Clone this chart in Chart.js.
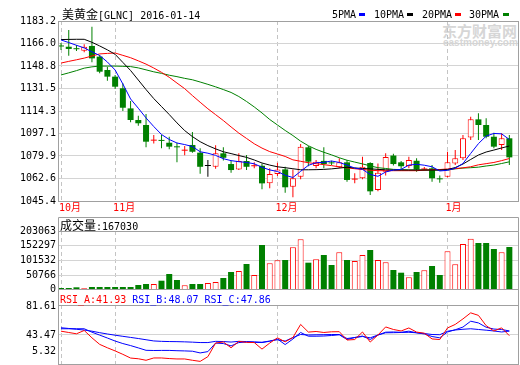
<!DOCTYPE html>
<html><head><meta charset="utf-8">
<script src="https://cdn.jsdelivr.net/npm/chart.js@4.4.1/dist/chart.umd.min.js"></script>
<style>
html,body{margin:0;padding:0;background:#fff;}
#wrap{position:relative;width:520px;height:365px;overflow:hidden;font-family:'DejaVu Sans Mono',monospace;font-size:10px;color:#000;}
canvas{position:absolute;left:0;top:0;}
.t{position:absolute;white-space:pre;line-height:12px;}
.cjk{font-family:'Noto Sans CJK SC';font-size:12px;}
.sq{position:absolute;width:6px;height:3px;top:13px;}
.wm1{position:absolute;left:442px;top:22px;font-family:'Noto Sans CJK SC';font-weight:bold;font-size:15px;line-height:17px;color:#d6d6d6;letter-spacing:0px;}
.wm2{position:absolute;left:443px;top:37px;font-family:'Liberation Sans';font-weight:bold;font-size:10px;line-height:11px;color:#d6d6d6;}
</style></head>
<body><div id="wrap">
<div class="wm1">东方财富网</div>
<div class="wm2">eastmoney.com</div>
<canvas id="cMain" width="520" height="365"></canvas>
<canvas id="cVol" width="520" height="365"></canvas>
<canvas id="cRsi" width="520" height="365"></canvas>
<div class="t" style="left:62px;top:8px"><span class="cjk">美黄金</span>[GLNC] 2016-01-14</div>
<div class="t" style="left:332px;top:9px">5PMA</div><div class="sq" style="left:359px;background:#0000ff"></div>
<div class="t" style="left:374px;top:9px">10PMA</div><div class="sq" style="left:407px;background:#000"></div>
<div class="t" style="left:422px;top:9px">20PMA</div><div class="sq" style="left:455px;background:#ff0000"></div>
<div class="t" style="left:469px;top:9px">30PMA</div><div class="sq" style="left:503px;background:#008000"></div>
<div class="t" style="left:60px;top:219px"><span class="cjk">成交量</span>:167030</div>
<div class="t" style="left:60px;top:294px"><span style="color:#ff0000">RSI_A:41.93</span> <span style="color:#0000ff">RSI_B:48.07</span> <span style="color:#0000ff">RSI_C:47.86</span></div>
</div>
<script>
const dates = ['2015-10-22','2015-10-23','2015-10-26','2015-10-27','2015-10-28','2015-10-29','2015-10-30',
'2015-11-02','2015-11-03','2015-11-04','2015-11-05','2015-11-06','2015-11-09','2015-11-10','2015-11-11','2015-11-12','2015-11-13',
'2015-11-16','2015-11-17','2015-11-18','2015-11-19','2015-11-20','2015-11-23','2015-11-24','2015-11-25','2015-11-26','2015-11-27','2015-11-30',
'2015-12-01','2015-12-02','2015-12-03','2015-12-04','2015-12-07','2015-12-08','2015-12-09','2015-12-10','2015-12-11',
'2015-12-14','2015-12-15','2015-12-16','2015-12-17','2015-12-18','2015-12-21','2015-12-22','2015-12-23','2015-12-24',
'2015-12-28','2015-12-29','2015-12-30','2015-12-31',
'2016-01-04','2016-01-05','2016-01-06','2016-01-07','2016-01-08','2016-01-11','2016-01-12','2016-01-13','2016-01-14'];
const monthLabels = ['10月','11月','12月','1月'];

const opens = [1164.1,1163.5,1162.0,1160.5,1164.1,1155.9,1145.7,1140.6,1131.7,1116.3,
1107.4,1103.6,1091.6,1091.9,1090.0,1087.0,1083.9,1088.3,1082.4,1072.2,
1071.6,1081.9,1073.7,1069.6,1076.0,1072.0,1072.4,1058.9,1066.0,1069.6,
1056.3,1064.0,1086.5,1072.2,1076.1,1074.8,1071.2,1075.0,1061.8,1062.8,
1074.5,1053.8,1067.8,1080.2,1075.0,1072.2,1076.2,1069.5,1070.4,1062.5,
1064.0,1074.2,1078.1,1094.1,1107.9,1103.6,1094.6,1088.3,1093.4];
const highs = [1166.3,1176.3,1164.8,1165.4,1178.8,1157.2,1148.2,1141.9,1135.5,1121.9,
1110.7,1112.0,1095.9,1095.9,1094.6,1090.0,1087.5,1098.2,1085.7,1076.8,
1088.0,1086.5,1076.5,1081.9,1080.6,1075.0,1074.2,1070.4,1074.7,1071.6,
1069.6,1089.0,1087.5,1076.8,1086.5,1076.2,1078.1,1076.8,1066.6,1079.3,
1075.0,1074.2,1082.0,1081.5,1076.0,1079.3,1078.1,1071.5,1072.9,1065.0,
1083.1,1084.4,1095.9,1109.9,1112.6,1108.7,1097.7,1097.2,1095.9];
const lows = [1161.0,1156.6,1160.2,1159.2,1151.6,1143.2,1137.5,1131.1,1114.3,1105.6,
1103.0,1086.5,1089.5,1085.7,1085.0,1075.0,1080.5,1082.4,1066.3,1064.0,
1070.0,1076.5,1067.0,1069.1,1069.1,1070.4,1054.3,1055.1,1064.5,1051.7,
1048.2,1062.0,1072.0,1070.4,1070.4,1072.9,1070.4,1060.2,1058.9,1062.0,
1049.9,1052.8,1065.0,1072.5,1069.0,1070.4,1067.8,1068.5,1060.2,1059.4,
1063.5,1072.9,1076.8,1092.1,1092.1,1093.4,1085.7,1084.4,1072.9];
const closes = [1163.7,1161.8,1161.6,1163.5,1154.6,1144.4,1140.6,1132.9,1116.8,1107.4,
1104.9,1090.8,1092.3,1091.4,1087.0,1086.5,1084.7,1083.1,1071.6,1072.2,
1081.9,1078.5,1069.1,1076.0,1071.6,1072.8,1058.9,1066.0,1069.6,1055.9,
1062.8,1087.0,1075.5,1075.5,1073.7,1074.2,1075.1,1061.5,1062.4,1071.6,
1052.8,1067.1,1079.1,1073.7,1072.0,1076.8,1069.5,1070.3,1062.8,1062.0,
1075.1,1078.1,1093.4,1107.9,1103.6,1094.6,1087.0,1093.4,1078.8];
const volumes = [8900,8900,11200,7800,12300,12300,12300,12300,12300,12300,
19100,22500,22500,33700,56600,36100,18100,22500,22500,25900,
29300,42900,63400,66800,90600,53200,155400,93000,103200,104300,
147500,174800,95100,106600,121300,87200,130500,104300,100900,121300,
138300,104300,96400,70200,61000,45300,63400,69200,83800,53200,
133900,89600,158800,176800,162200,162200,141700,130500,148600];
const ma5 = [1168.7,1166.7,1164.6,1162.6,1159.6,1156.8,1151.8,1145.7,1135.0,1123.5,
1116.4,1109.0,1102.4,1096.3,1092.5,1089.8,1088.6,1087.1,1083.1,1082.0,
1080.3,1077.8,1076.3,1075.5,1074.9,1073.9,1071.2,1069.2,1068.0,1065.1,
1063.4,1068.1,1072.7,1074.7,1075.0,1076.0,1074.9,1072.9,1070.6,1069.6,
1065.7,1064.3,1067.6,1069.1,1069.6,1072.9,1073.5,1072.8,1071.6,1068.4,
1068.9,1070.5,1074.1,1081.8,1089.3,1095.1,1097.1,1096.8,1092.5];
const ma10 = [1169.0,1169.1,1169.2,1169.2,1166.9,1164.1,1161.1,1157.7,1151.5,1145.3,
1138.0,1130.7,1123.8,1117.7,1111.6,1105.2,1099.3,1094.7,1090.8,1087.8,
1085.3,1083.1,1081.7,1080.2,1078.8,1076.8,1074.5,1072.9,1071.6,1070.9,
1070.1,1069.3,1069.3,1069.4,1069.6,1070.0,1070.6,1071.2,1070.7,1070.3,
1070.0,1069.6,1069.3,1069.1,1069.1,1069.1,1069.1,1069.1,1069.1,1069.1,
1069.5,1071.0,1073.7,1077.2,1080.6,1082.9,1084.4,1086.0,1087.5];
const ma20 = [1151.0,1152.3,1153.5,1154.8,1156.4,1158.0,1158.4,1158.7,1156.9,1155.1,
1152.7,1150.2,1147.2,1143.9,1140.1,1135.7,1131.4,1126.1,1121.0,1116.0,
1111.5,1107.0,1102.1,1097.4,1093.3,1089.2,1085.9,1083.2,1081.4,1079.5,
1076.9,1075.8,1074.7,1074.0,1073.2,1072.5,1071.5,1070.8,1070.1,1069.5,
1069.0,1068.6,1068.6,1068.6,1068.6,1068.6,1068.6,1069.0,1069.3,1069.5,
1069.9,1070.2,1070.8,1071.6,1073.1,1074.0,1074.9,1076.3,1077.9];
const ma30 = [1141.9,1143.5,1145.2,1147.1,1148.1,1148.7,1148.7,1148.7,1148.5,1148.3,
1147.3,1145.8,1144.3,1143.1,1141.7,1140.6,1139.3,1138.2,1136.5,1134.7,
1132.8,1130.7,1128.5,1125.4,1121.6,1117.4,1112.8,1107.8,1103.6,1099.4,
1095.5,1091.2,1087.7,1084.9,1082.7,1080.7,1078.5,1076.6,1075.2,1073.8,
1072.3,1070.9,1070.3,1069.6,1069.4,1069.1,1069.1,1069.1,1069.1,1069.1,
1069.1,1070.0,1070.6,1070.9,1071.3,1072.2,1072.9,1074.1,1075.4];
const rsiA = [47.76,46.07,44.38,48.67,39.17,30.71,26.28,22.24,17.82,13.00,
12.09,10.14,13.13,13.13,12.35,11.83,11.83,10.14,8.70,14.82,
32.40,33.83,26.28,34.61,33.31,33.05,24.59,32.40,39.17,33.96,
39.56,56.48,46.59,47.37,46.07,46.98,47.11,36.30,36.95,46.72,
33.70,42.81,53.23,49.97,48.02,51.93,46.59,45.16,37.74,36.95,
51.93,56.48,63.64,71.46,68.20,54.92,48.02,52.06,41.93];
const rsiB = [50.89,50.89,50.89,50.89,46.46,42.68,38.91,35.00,31.75,29.14,
26.15,23.02,22.76,22.89,22.89,22.50,22.24,21.85,19.64,21.33,
32.40,31.75,28.75,33.05,33.70,33.31,33.05,34.74,37.61,30.45,
37.61,46.07,41.25,41.25,41.51,42.16,43.07,36.95,39.56,41.51,
36.95,42.81,46.46,46.72,46.33,47.76,45.68,44.12,40.86,39.17,
46.72,49.58,53.10,60.65,58.44,52.84,50.49,49.97,48.07];
const rsiC = [52.19,51.28,50.23,49.19,47.76,45.81,44.12,42.55,41.12,39.69,
38.26,36.69,35.13,34.61,34.35,34.22,33.96,33.57,33.05,33.05,
34.61,34.35,33.70,34.61,34.35,33.96,33.44,35.00,36.69,35.00,
39.56,43.46,42.81,43.07,43.20,43.46,43.46,38.26,39.56,40.86,
39.17,42.81,45.68,45.81,46.07,46.33,45.68,44.77,43.46,43.20,
47.63,49.32,50.23,50.89,49.97,49.06,48.02,46.72,47.86];
const priceTicks = [1045.4,1062.6,1079.9,1097.1,1114.3,1131.5,1148.8,1166.0,1183.2];
const volTicks = [0,50766,101532,152297,203063];
const rsiTicks = [5.32,43.47,81.61];

const RED='#ff0000', GREEN='#008000', BLUE='#0000ff', BLACK='#000000';
const GRID='#d4d4d4', DASH='#c4c4c4', FRAME='#a0a0a0';
const MONO="'DejaVu Sans Mono', monospace";
const XMIN=-0.39, XMAX=59.12, VOLMIN=5450;

const monthStarts = dates.reduce((a,d,i)=>{ if(i===0 || d.slice(5,7)!==dates[i-1].slice(5,7)) a.push(i); return a; }, []);
const dir = i => closes[i] > opens[i] ? 1 : (closes[i] < opens[i] ? -1 : 0);
const candleColor = i => dir(i) > 0 ? RED : (dir(i) < 0 ? GREEN : BLACK);
const pts = arr => arr.map((y,i)=>({x:i,y}));

const frame = {
  id:'frame',
  afterDraw(chart, args, o){
    const {ctx, chartArea:a} = chart;
    const L=Math.round(a.left)+0.5, R=Math.round(a.right)+0.5, T=Math.round(a.top)+0.5, B=Math.round(a.bottom)+0.5;
    ctx.save(); ctx.strokeStyle=FRAME; ctx.lineWidth=1;
    ctx.strokeRect(L,T,R-L,B-T);
    if(o.boxTop!=null){ const bt=o.boxTop+0.5; ctx.beginPath(); ctx.moveTo(L,T); ctx.lineTo(L,bt); ctx.lineTo(R,bt); ctx.lineTo(R,T); ctx.stroke(); }
    ctx.restore();
  }
};
const rsiLabels = {
  id:'rsiLabels',
  afterDraw(chart){
    const s=chart.scales.y, a=chart.chartArea, ctx=chart.ctx;
    ctx.save(); ctx.font='10px '+MONO; ctx.fillStyle='#000'; ctx.textAlign='right'; ctx.textBaseline='middle';
    rsiTicks.forEach(v=>{ const y=Math.min(s.getPixelForValue(v)+1, a.bottom-13); ctx.fillText(v.toFixed(2), 56, y); });
    ctx.restore();
  }
};

function xAxis(show){
  return {
    type:'linear', min:XMIN, max:XMAX, offset:false,
    grid:{offset:false, color:DASH, drawTicks:false, lineWidth:1},
    border:{display:false, dash:[4,3]},
    afterBuildTicks:s=>{ s.ticks = monthStarts.map(v=>({value:v})); },
    ticks:{display:show, autoSkip:false, maxRotation:0, align:'start', labelOffset:-2, padding:1,
      color:RED, font:{family:"'DejaVu Sans Mono','Noto Sans CJK SC'", size:10}, callback:(v,i)=>monthLabels[i]},
    afterFit:s=>{ s.height = show ? 17 : 0; }
  };
}
function yAxis(min,max,vals,labels,show){
  return {
    type:'linear', min, max, position:'left',
    grid:{color:GRID, drawTicks:false, lineWidth:1},
    border:{display:false},
    afterBuildTicks:s=>{ s.ticks = vals.map(v=>({value:Math.min(Math.max(v,min),max)})); },
    ticks:{display:show, autoSkip:false, padding:2, color:'#000', font:{family:MONO,size:10}, callback:(v,i)=>labels[i]},
    afterFit:s=>{ s.width = 58; }
  };
}
const base = (pad, frameOpts) => ({
  responsive:false, maintainAspectRatio:false, animation:false, devicePixelRatio:1, events:[],
  layout:{padding:pad},
  plugins:{legend:{display:false}, tooltip:{enabled:false}, frame:frameOpts}
});
const lineDs = (label, arr, color) => ({type:'line', label, data:pts(arr), borderColor:color, borderWidth:1, pointRadius:0, tension:0, fill:false, order:0});

// Main price panel
const mainOpts = base({top:21,right:2,bottom:147,left:0}, {});
mainOpts.scales = { x:xAxis(true), y:yAxis(1045.4,1183.2,priceTicks,priceTicks.map(v=>v.toFixed(1)),true) };
new Chart(document.getElementById('cMain'), {
  type:'bar',
  data:{ datasets:[
    lineDs('5PMA', ma5, BLUE),
    lineDs('10PMA', ma10, BLACK),
    lineDs('20PMA', ma20, RED),
    lineDs('30PMA', ma30, GREEN),
    { type:'bar', label:'body', data:opens.map((o,i)=>({x:i,y:[o,closes[i]]})), order:1,
      barThickness:6, grouped:false, minBarLength:1, borderSkipped:false, inflateAmount:0,
      backgroundColor:c=>{ const i=c.dataIndex; return (dir(i)>0 && Math.abs(closes[i]-opens[i])>1.9) ? '#ffffff' : candleColor(i); },
      borderColor:c=>candleColor(c.dataIndex),
      borderWidth:c=>{ const i=c.dataIndex; return (dir(i)>0 && Math.abs(closes[i]-opens[i])>1.9) ? 1 : 0; } },
    { type:'bar', label:'wick', data:lows.map((l,i)=>({x:i,y:[l,highs[i]]})), order:2,
      barThickness:1, grouped:false, inflateAmount:0, borderWidth:0,
      backgroundColor:c=>candleColor(c.dataIndex) }
  ]},
  options:mainOpts,
  plugins:[frame]
});

// Volume panel
const volOpts = base({top:231,right:2,bottom:76,left:0}, {boxTop:217});
volOpts.scales = { x:xAxis(false), y:yAxis(VOLMIN,203063,volTicks,volTicks.map(String),true) };
new Chart(document.getElementById('cVol'), {
  type:'bar',
  data:{ datasets:[{
    label:'成交量', data:pts(volumes), barThickness:6, grouped:false, borderSkipped:false, inflateAmount:0,
    backgroundColor:c=>dir(c.dataIndex)>=0 ? '#ffffff' : GREEN,
    borderColor:c=>dir(c.dataIndex)>=0 ? RED : GREEN,
    borderWidth:c=>dir(c.dataIndex)>=0 ? 1 : 0
  }]},
  options:volOpts,
  plugins:[frame]
});

// RSI panel
const rsiOpts = base({top:305,right:2,bottom:1,left:0}, {boxTop:289});
rsiOpts.scales = { x:xAxis(false), y:yAxis(5.32,81.61,rsiTicks,rsiTicks.map(v=>v.toFixed(2)),false) };
new Chart(document.getElementById('cRsi'), {
  type:'line',
  data:{ datasets:[
    lineDs('RSI_A', rsiA, RED),
    lineDs('RSI_B', rsiB, BLUE),
    lineDs('RSI_C', rsiC, BLUE)
  ]},
  options:rsiOpts,
  plugins:[frame, rsiLabels]
});
</script>
</body></html>
